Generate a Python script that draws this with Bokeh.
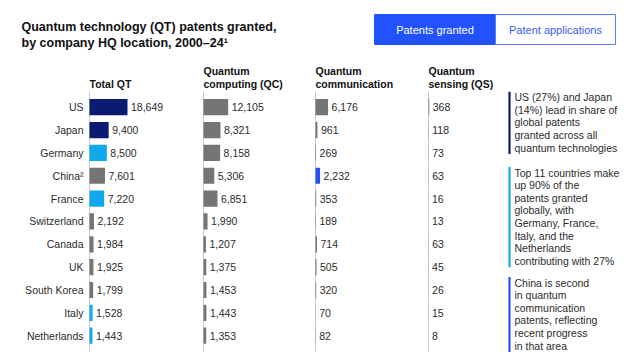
from bokeh.plotting import figure
from bokeh.models import Range1d, ColumnDataSource
from bokeh.embed import file_html
from bokeh.resources import INLINE
from bokeh.core.properties import value

# ---------------- data ----------------
countries = ["US", "Japan", "Germany", "China\u00b2", "France", "Switzerland",
             "Canada", "UK", "South Korea", "Italy", "Netherlands"]
total_qt = [18649, 9400, 8500, 7601, 7220, 2192, 1984, 1925, 1799, 1528, 1443]
qc = [12105, 8321, 8158, 5306, 6851, 1990, 1207, 1375, 1453, 1443, 1353]
qcom = [6176, 961, 269, 2232, 353, 189, 714, 505, 320, 70, 82]
qs = [368, 118, 73, 63, 16, 13, 63, 45, 26, 15, 8]

col_headers = [["Total QT"], ["Quantum", "computing (QC)"],
               ["Quantum", "communication"], ["Quantum", "sensing (QS)"]]

title_lines = ["Quantum technology (QT) patents granted,",
               "by company HQ location, 2000\u201324\u00b9"]
buttons = ["Patents granted", "Patent applications"]

note1 = ["US (27%) and Japan", "(14%) lead in share of", "global patents",
         "granted across all", "quantum technologies"]
note2 = ["Top 11 countries make", "up 90% of the", "patents granted",
         "globally, with", "Germany, France,", "Italy, and the",
         "Netherlands", "contributing with 27%"]
note3 = ["China is second", "in quantum", "communication",
         "patents, reflecting", "recent progress", "in that area"]

NAVY = "#0b1b72"
LIGHT = "#12a8ef"
GRAY = "#757575"
BLUE = "#2251ff"

qt_colors = [NAVY, NAVY, LIGHT, GRAY, LIGHT, GRAY, GRAY, GRAY, GRAY, LIGHT, LIGHT]
qc_colors = [GRAY] * 11
qcom_colors = [GRAY, GRAY, GRAY, BLUE, GRAY, GRAY, GRAY, GRAY, GRAY, GRAY, GRAY]
qs_colors = [GRAY] * 11

FONT = value("Liberation Sans")
TXT = "#2b2b2b"

# ---------------- layout ----------------
W, H = 632, 352
X0, X1 = 0, 632
Y0, Y1 = 0, 352
scale = 38.0 / 18649.0          # px per patent
origins = {"qt": 89, "qc": 203, "qcom": 315, "qs": 428}
row0, row_step = 106.7, 22.85

p = figure(width=W, height=H, output_backend="svg", toolbar_location=None,
           x_range=Range1d(X0, X1), y_range=Range1d(Y1, Y0),
           min_border=0, outline_line_color=None)
p.axis.visible = False
p.grid.visible = False
p.background_fill_color = "white"
p.border_fill_color = "white"

for name, o in origins.items():
    p.extra_x_ranges[name] = Range1d((X0 - o) / scale, (X1 - o) / scale)
p.extra_y_ranges["row"] = Range1d((Y1 - row0) / row_step, (Y0 - row0) / row_step)

idx = list(range(len(countries)))

# title
p.text(x=[21], y=[26], text=[title_lines[0]], text_font=FONT,
       text_font_size="12.5px", text_font_style="bold", text_color="#111111",
       text_baseline="alphabetic")
p.text(x=[21], y=[42], text=[title_lines[1]], text_font=FONT,
       text_font_size="12.5px", text_font_style="bold", text_color="#111111",
       text_baseline="alphabetic")

# toggle buttons
p.quad(left=[374], right=[495], top=[14], bottom=[44], fill_color=BLUE,
       line_color=BLUE, line_width=1)
p.quad(left=[495], right=[615], top=[14], bottom=[44], fill_color="white",
       line_color="#5b7cff", line_width=1)
p.text(x=[434.5], y=[29.5], text=[buttons[0]], text_font=FONT, text_font_size="11px",
       text_color="white", text_align="center", text_baseline="middle")
p.text(x=[555], y=[29.5], text=[buttons[1]], text_font=FONT, text_font_size="11px",
       text_color="#3a5cf5", text_align="center", text_baseline="middle")

# column headers + axis lines + bars + labels
cols = [("qt", total_qt, qt_colors), ("qc", qc, qc_colors),
        ("qcom", qcom, qcom_colors), ("qs", qs, qs_colors)]
for (name, vals, colors), hdr in zip(cols, col_headers):
    o = origins[name]
    ys = [83] if len(hdr) == 1 else [70.5, 83]
    for line, yy in zip(hdr, ys):
        p.text(x=[o], y=[yy], text=[line], text_font=FONT, text_font_size="10.5px",
               text_font_style="bold", text_color="#111111", text_baseline="alphabetic")
    p.segment(x0=[0], x1=[0], y0=[91], y1=[351], x_range_name=name,
              line_color="#c9c9c9", line_width=1)
    src = ColumnDataSource(dict(y=idx, v=vals, c=colors,
                                lab=[f"{v:,}" for v in vals]))
    p.hbar(y="y", left=0, right="v", height=0.71, fill_color="c", line_color=None,
           source=src, x_range_name=name, y_range_name="row")
    p.text(x="v", y="y", text="lab", x_offset=3.5, source=src, text_font=FONT,
           text_font_size="10.5px", text_color=TXT, text_baseline="middle",
           x_range_name=name, y_range_name="row")

# country labels
p.text(x=[0] * len(idx), y=idx, text=countries, x_offset=-6, text_font=FONT,
       text_font_size="10.5px", text_color=TXT, text_align="right",
       text_baseline="middle", x_range_name="qt", y_range_name="row")

# side notes
LH = 12.6
for lines, top, color in [(note1, 96.7, NAVY), (note2, 172, LIGHT), (note3, 282, BLUE)]:
    ys = [top + k * LH for k in range(len(lines))]
    p.segment(x0=[509], x1=[509], y0=[ys[0] - 5.5], y1=[ys[-1] + 6.5],
              line_color=color, line_width=2.2)
    p.text(x=[514] * len(lines), y=ys, text=lines, text_font=FONT,
           text_font_size="10.5px", text_color=TXT, text_baseline="middle")

open("out.html", "w").write(file_html(p, INLINE))
